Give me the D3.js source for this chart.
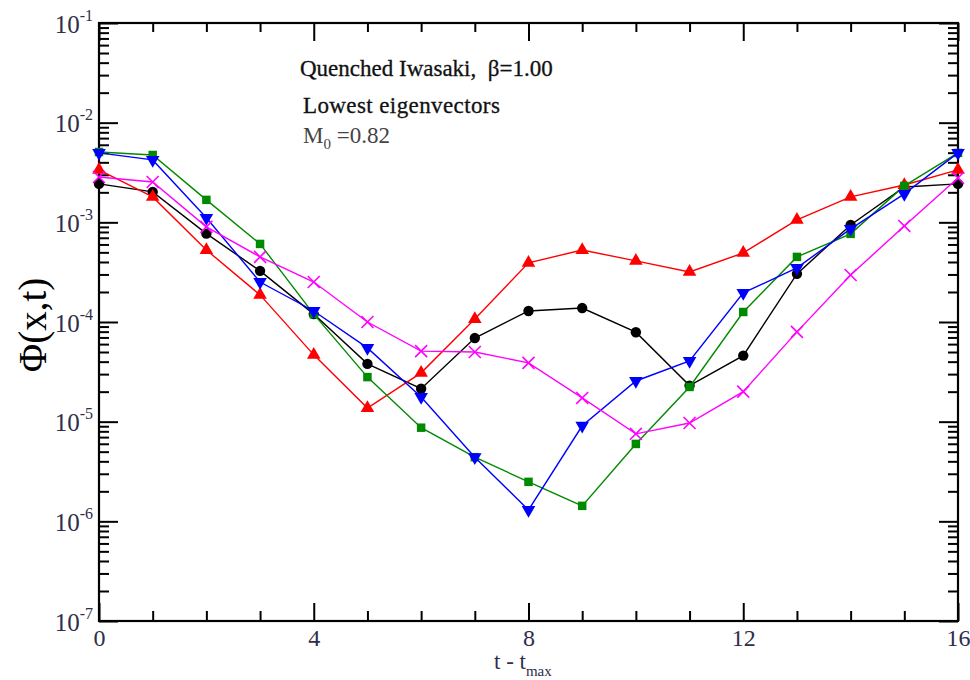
<!DOCTYPE html>
<html>
<head>
<meta charset="utf-8">
<script src="https://cdn.jsdelivr.net/npm/d3@7"></script>
<style>
  body { margin: 0; background: #fff; }
  text { font-family: "Liberation Serif", "DejaVu Serif", serif; white-space: pre; }
</style>
</head>
<body>
<div id="chart"></div>
<script>
// --------------------------------------
//  Data
// --------------------------------------

const tValues = d3.range(0, 17);

const blackCircle = [2.43e-3, 2.02e-3, 7.7e-4, 3.26e-4, 1.2e-4, 3.8e-5, 2.14e-5, 6.9e-5, 1.29e-4,
  1.38e-4, 7.9e-5, 2.3e-5, 4.6e-5, 3.04e-4, 9.4e-4, 2.26e-3, 2.43e-3];
const redUp = [3.36e-3, 1.8e-3, 5.28e-4, 1.87e-4, 4.68e-5, 1.37e-5, 3.09e-5, 1.07e-4, 3.92e-4,
  5.28e-4, 4.1e-4, 3.18e-4, 4.93e-4, 1.06e-3, 1.8e-3, 2.37e-3, 3.36e-3];
const greenSquare = [5.08e-3, 4.74e-3, 1.68e-3, 6.07e-4, 1.2e-4, 2.8e-5, 8.7e-6, 4.4e-6, 2.49e-6,
  1.43e-6, 5.98e-6, 2.23e-5, 1.26e-4, 4.5e-4, 7.66e-4, 2.32e-3, 4.97e-3];
const blueDown = [4.97e-3, 4.23e-3, 1.11e-3, 2.52e-4, 1.29e-4, 5.5e-5, 1.77e-5, 4.4e-6, 1.3e-6,
  9.1e-6, 2.56e-5, 4.07e-5, 1.96e-4, 3.49e-4, 8.6e-4, 1.93e-3, 4.97e-3];
const magentaCross = [2.85e-3, 2.54e-3, 9.0e-4, 4.5e-4, 2.52e-4, 1.0e-4, 5.1e-5, 5.0e-5, 3.89e-5,
  1.73e-5, 7.55e-6, 9.7e-6, 2.0e-5, 7.96e-5, 2.96e-4, 9.2e-4, 2.79e-3];

const xMajor = [0, 4, 8, 12, 16];
const yDecades = [-7, -6, -5, -4, -3, -2, -1];

const series = [
  { name: "black", values: blackCircle, color: "#000000", symbol: d3.symbolCircle, size: 85, rotate: 0, fill: true },
  { name: "red", values: redUp, color: "#ff0000", symbol: d3.symbolTriangle, size: 80, rotate: 0, fill: true },
  { name: "green", values: greenSquare, color: "#008a00", symbol: d3.symbolSquare, size: 72, rotate: 0, fill: true },
  { name: "blue", values: blueDown, color: "#0000ff", symbol: d3.symbolTriangle, size: 80, rotate: 180, fill: true },
  { name: "magenta", values: magentaCross, color: "#ff00ff", symbol: d3.symbolTimes, size: 95, rotate: 0, fill: false }
];

// --------------------------------------
//  Canvas
// --------------------------------------

const width = 970;
const height = 680;
const margin = { top: 23, right: 12, bottom: 59, left: 99 };

const svg = d3
  .select("#chart")
  .append("svg")
  .attr("width", width)
  .attr("height", height)
  .attr("viewBox", [0, 0, width, height]);

const x = d3.scaleLinear([0, 16], [margin.left, width - margin.right]);
const y = d3.scaleLog([1e-7, 1e-1], [height - margin.bottom, margin.top]);

const tickColor = "#2e2e4a";

// --------------------------------------
//  Axes
// --------------------------------------

const xMinor = tValues.filter((d) => !xMajor.includes(d));
const yMajor = yDecades.map((e) => Math.pow(10, e));
const yMinor = yDecades.slice(0, -1).flatMap((e) => d3.range(2, 10).map((k) => k * Math.pow(10, e)));

function styleAxis(g) {
  g.select(".domain").remove();
  g.selectAll("line").attr("stroke", "#000").attr("stroke-width", 2);
}

// bottom
svg.append("g")
  .attr("transform", `translate(0,${y.range()[0]})`)
  .call(d3.axisBottom(x).tickValues(xMajor).tickSizeInner(-18).tickSizeOuter(0).tickPadding(8))
  .call(styleAxis)
  .call((g) => g.selectAll("text")
    .attr("font-size", 24)
    .attr("fill", tickColor));

svg.append("g")
  .attr("transform", `translate(0,${y.range()[0]})`)
  .call(d3.axisBottom(x).tickValues(xMinor).tickSize(-10).tickFormat(""))
  .call(styleAxis);

// top
svg.append("g")
  .attr("transform", `translate(0,${y.range()[1]})`)
  .call(d3.axisTop(x).tickValues(xMajor).tickSize(-18).tickFormat(""))
  .call(styleAxis);

svg.append("g")
  .attr("transform", `translate(0,${y.range()[1]})`)
  .call(d3.axisTop(x).tickValues(xMinor).tickSize(-9).tickFormat(""))
  .call(styleAxis);

// left, with 10^n labels
svg.append("g")
  .attr("transform", `translate(${x.range()[0]},0)`)
  .call(d3.axisLeft(y).tickValues(yMajor).tickSizeInner(-19).tickSizeOuter(0).tickFormat(""))
  .call(styleAxis)
  .call((g) => g.selectAll(".tick").each(function (d) {
    const label = d3.select(this).append("text")
      .attr("x", -6)
      .attr("y", 9)
      .attr("text-anchor", "end")
      .attr("fill", tickColor)
      .attr("font-size", 25);
    label.append("tspan").text("10");
    label.append("tspan")
      .attr("font-size", 16)
      .attr("dy", -12)
      .text(String(Math.round(Math.log10(d))));
  }));

svg.append("g")
  .attr("transform", `translate(${x.range()[0]},0)`)
  .call(d3.axisLeft(y).tickValues(yMinor).tickSize(-10).tickFormat(""))
  .call(styleAxis);

// right
svg.append("g")
  .attr("transform", `translate(${x.range()[1]},0)`)
  .call(d3.axisRight(y).tickValues(yMajor).tickSize(-19).tickFormat(""))
  .call(styleAxis);

svg.append("g")
  .attr("transform", `translate(${x.range()[1]},0)`)
  .call(d3.axisRight(y).tickValues(yMinor).tickSize(-10).tickFormat(""))
  .call(styleAxis);

// frame
svg.append("rect")
  .attr("x", x.range()[0])
  .attr("y", y.range()[1])
  .attr("width", x.range()[1] - x.range()[0])
  .attr("height", y.range()[0] - y.range()[1])
  .attr("fill", "none")
  .attr("stroke", "#000")
  .attr("stroke-width", 2.2);

// --------------------------------------
//  Axis titles
// --------------------------------------

svg.append("text")
  .attr("transform", `translate(46, 325) rotate(-90)`)
  .attr("text-anchor", "middle")
  .attr("font-size", 39)
  .attr("fill", "#000")
  .text("Φ(x,t)");

const xTitle = svg.append("text")
  .attr("x", 494)
  .attr("y", 669)
  .attr("font-size", 23)
  .attr("fill", tickColor);
xTitle.append("tspan").text("t - t");
xTitle.append("tspan").attr("font-size", 15).attr("dy", 7).text("max");

// --------------------------------------
//  Annotations
// --------------------------------------

svg.append("text")
  .attr("x", 300).attr("y", 76)
  .attr("font-size", 23)
  .attr("fill", "#111")
  .attr("stroke", "#111").attr("stroke-width", 0.3)
  .text("Quenched Iwasaki,  β=1.00");

svg.append("text")
  .attr("x", 303).attr("y", 113)
  .attr("font-size", 23)
  .attr("letter-spacing", 0.4)
  .attr("fill", "#111")
  .attr("stroke", "#111").attr("stroke-width", 0.3)
  .text("Lowest eigenvectors");

const mLabel = svg.append("text")
  .attr("x", 303).attr("y", 143)
  .attr("font-size", 23)
  .attr("fill", "#444");
mLabel.append("tspan").text("M");
mLabel.append("tspan").attr("font-size", 15).attr("dy", 6).text("0");
mLabel.append("tspan").attr("dy", -6).text(" =0.82");

// --------------------------------------
//  Lines and markers
// --------------------------------------

const line = d3.line()
  .x((d, i) => x(tValues[i]))
  .y((d) => y(d));

const plot = svg.append("g");

series.forEach((s) => {
  const g = plot.append("g").attr("class", `series-${s.name}`);

  g.append("path")
    .attr("d", line(s.values))
    .attr("fill", "none")
    .attr("stroke", s.color)
    .attr("stroke-width", 1.4);

  g.selectAll("path.marker")
    .data(s.values)
    .join("path")
    .attr("class", "marker")
    .attr("transform", (d, i) => `translate(${x(tValues[i])},${y(d)}) rotate(${s.rotate})`)
    .attr("d", d3.symbol(s.symbol, s.size))
    .attr("fill", s.fill ? s.color : "none")
    .attr("stroke", s.fill ? "none" : s.color)
    .attr("stroke-width", 1.6);
});
</script>
</body>
</html>
